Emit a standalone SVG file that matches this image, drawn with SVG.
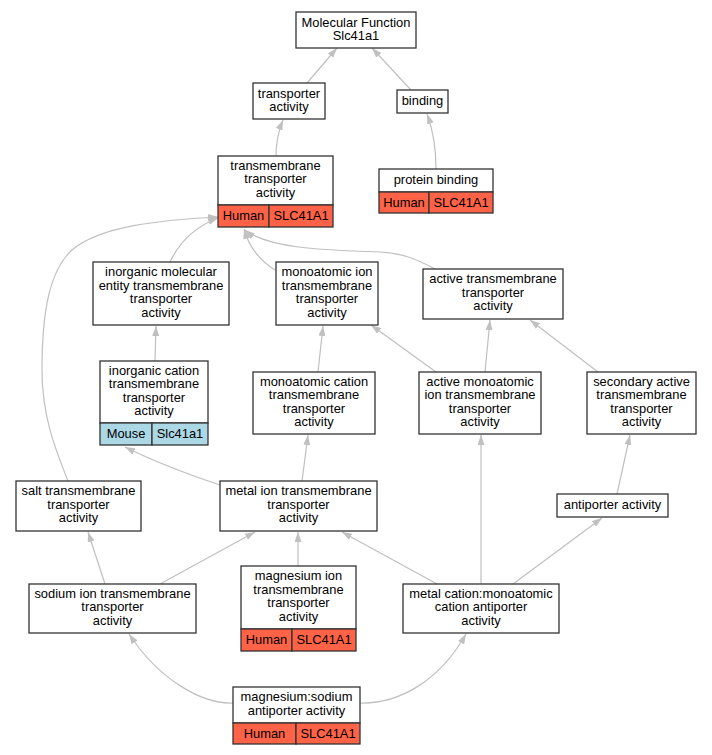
<svg xmlns="http://www.w3.org/2000/svg" width="712" height="755" viewBox="0 0 712 755">
<style>
text{font-family:"Liberation Sans",Arial,sans-serif;font-size:12.9px;fill:#000;text-anchor:middle}
.b{fill:#fff;stroke:#333;stroke-width:1.3}
.h{fill:#fe6347;stroke:#333;stroke-width:1.3}
.m{fill:#acd8e5;stroke:#333;stroke-width:1.3}
.e{fill:none;stroke:#c0c0c0;stroke-width:1.2;marker-end:url(#a)}
</style>
<defs>
<marker id="a" viewBox="0 0 10 7" refX="10" refY="3.5" markerWidth="10" markerHeight="7" markerUnits="userSpaceOnUse" orient="auto">
<path d="M0,0 L10,3.5 L0,7 z" fill="#c0c0c0"/>
</marker>
</defs>
<rect width="712" height="755" fill="#fff"/>
<g id="edges">
<path class="e" d="M307,83 L337,48"/>
<path class="e" d="M411,90 L372,48"/>
<path class="e" d="M276,156 C276,145 278,132 283,120"/>
<path class="e" d="M436,169 C436,150 433,130 427,114"/>
<path class="e" d="M68,481 C58,455 42,420 42,370 C42,310 50,270 72,250 C100,226 160,220 218,217"/>
<path class="e" d="M170,262 C178,245 192,228 218,218"/>
<path class="e" d="M275,270 C262,262 250,250 244,229"/>
<path class="e" d="M435,269 C415,258 400,253 380,252 C320,250 268,248 245,230"/>
<path class="e" d="M155,361 L156,326"/>
<path class="e" d="M318,372 L323,326"/>
<path class="e" d="M436,372 L371,325"/>
<path class="e" d="M485,372 L490,320"/>
<path class="e" d="M598,372 L530,320"/>
<path class="e" d="M220,485 C190,475 155,462 125,447"/>
<path class="e" d="M302,481 L308,435"/>
<path class="e" d="M105,584 L88,532"/>
<path class="e" d="M160,584 L255,532"/>
<path class="e" d="M298,566 L298,532"/>
<path class="e" d="M437,584 L342,532"/>
<path class="e" d="M481,584 L481,435"/>
<path class="e" d="M513,584 L602,518"/>
<path class="e" d="M617,494 L630,435"/>
<path class="e" d="M233,703 C200,704 158,678 129,634"/>
<path class="e" d="M360,703 C400,704 440,680 466,634"/>
</g>
<g id="n1"><rect class="b" x="296" y="12" width="120" height="36"/><text x="356" y="26.5">Molecular Function</text><text x="356" y="40">Slc41a1</text></g>
<g id="n2"><rect class="b" x="253" y="83" width="72" height="36"/><text x="289" y="97.5">transporter</text><text x="289" y="111">activity</text></g>
<g id="n3"><rect class="b" x="397" y="90" width="51" height="23"/><text x="422.5" y="105">binding</text></g>
<g id="n4"><rect class="b" x="218" y="156" width="115" height="49"/><text x="275.5" y="169.5">transmembrane</text><text x="275.5" y="183">transporter</text><text x="275.5" y="196.5">activity</text>
<rect class="h" x="218" y="205" width="51" height="22"/><rect class="h" x="269" y="205" width="64" height="22"/><text x="243.5" y="220">Human</text><text x="301" y="220">SLC41A1</text></g>
<g id="n5"><rect class="b" x="379" y="169" width="114" height="23"/><text x="436" y="184">protein binding</text>
<rect class="h" x="379" y="192" width="50" height="21"/><rect class="h" x="429" y="192" width="64" height="21"/><text x="404" y="206.5">Human</text><text x="461" y="206.5">SLC41A1</text></g>
<g id="n6"><rect class="b" x="93" y="262" width="136" height="63"/><text x="161" y="276">inorganic molecular</text><text x="161" y="289.5">entity transmembrane</text><text x="161" y="303">transporter</text><text x="161" y="316.5">activity</text></g>
<g id="n7"><rect class="b" x="100" y="361" width="108" height="62"/><text x="154" y="374.5">inorganic cation</text><text x="154" y="388">transmembrane</text><text x="154" y="401.5">transporter</text><text x="154" y="415">activity</text>
<rect class="m" x="100" y="423" width="52" height="22"/><rect class="m" x="152" y="423" width="56" height="22"/><text x="126" y="438">Mouse</text><text x="180" y="438">Slc41a1</text></g>
<g id="n8"><rect class="b" x="276" y="262" width="102" height="63"/><text x="327" y="276">monoatomic ion</text><text x="327" y="289.5">transmembrane</text><text x="327" y="303">transporter</text><text x="327" y="316.5">activity</text></g>
<g id="n9"><rect class="b" x="253" y="372" width="122" height="62"/><text x="314" y="385.5">monoatomic cation</text><text x="314" y="399">transmembrane</text><text x="314" y="412.5">transporter</text><text x="314" y="426">activity</text></g>
<g id="n10"><rect class="b" x="423" y="269" width="140" height="50"/><text x="493" y="283">active transmembrane</text><text x="493" y="296.5">transporter</text><text x="493" y="310">activity</text></g>
<g id="n11"><rect class="b" x="419" y="372" width="122" height="62"/><text x="480" y="385.5">active monoatomic</text><text x="480" y="399">ion transmembrane</text><text x="480" y="412.5">transporter</text><text x="480" y="426">activity</text></g>
<g id="n12"><rect class="b" x="587" y="372" width="109" height="62"/><text x="641.5" y="385.5">secondary active</text><text x="641.5" y="399">transmembrane</text><text x="641.5" y="412.5">transporter</text><text x="641.5" y="426">activity</text></g>
<g id="n13"><rect class="b" x="16" y="481" width="125" height="50"/><text x="78.5" y="495">salt transmembrane</text><text x="78.5" y="508.5">transporter</text><text x="78.5" y="522">activity</text></g>
<g id="n14"><rect class="b" x="220" y="481" width="157" height="50"/><text x="298.5" y="495">metal ion transmembrane</text><text x="298.5" y="508.5">transporter</text><text x="298.5" y="522">activity</text></g>
<g id="n15"><rect class="b" x="29" y="584" width="167" height="49"/><text x="112.5" y="597.5">sodium ion transmembrane</text><text x="112.5" y="611">transporter</text><text x="112.5" y="624.5">activity</text></g>
<g id="n16"><rect class="b" x="241" y="566" width="115" height="63"/><text x="298.5" y="580">magnesium ion</text><text x="298.5" y="593.5">transmembrane</text><text x="298.5" y="607">transporter</text><text x="298.5" y="620.5">activity</text>
<rect class="h" x="241" y="629" width="51" height="22"/><rect class="h" x="292" y="629" width="64" height="22"/><text x="266.5" y="644">Human</text><text x="324" y="644">SLC41A1</text></g>
<g id="n17"><rect class="b" x="233" y="687" width="127" height="36"/><text x="296.5" y="701">magnesium:sodium</text><text x="296.5" y="714.5">antiporter activity</text>
<rect class="h" x="233" y="723" width="63" height="21"/><rect class="h" x="296" y="723" width="64" height="21"/><text x="264.5" y="737.5">Human</text><text x="328" y="737.5">SLC41A1</text></g>
<g id="n18"><rect class="b" x="557" y="494" width="111" height="23"/><text x="612.5" y="509">antiporter activity</text></g>
<g id="n19"><rect class="b" x="403" y="584" width="156" height="49"/><text x="481" y="597.5">metal cation:monoatomic</text><text x="481" y="611">cation antiporter</text><text x="481" y="624.5">activity</text></g>
</svg>
